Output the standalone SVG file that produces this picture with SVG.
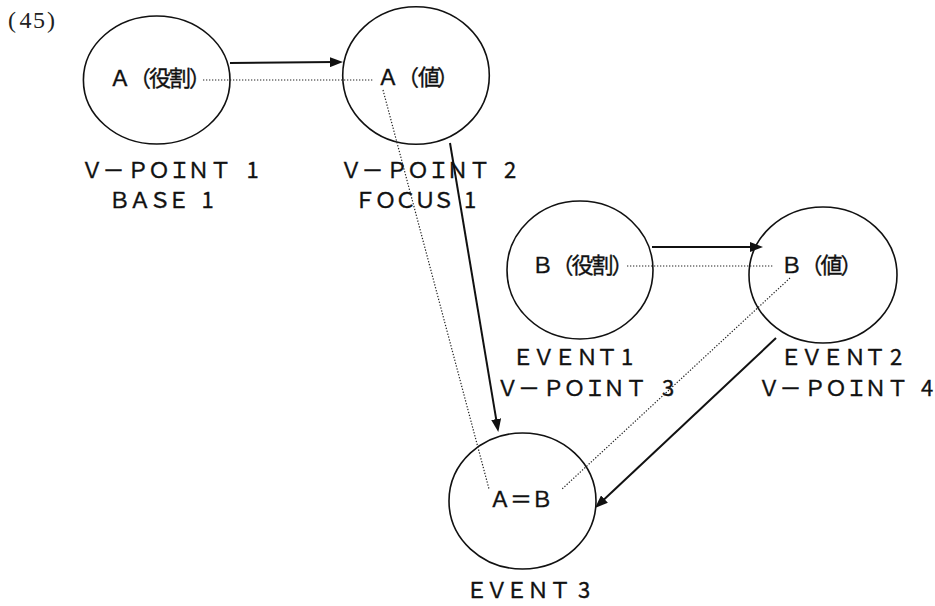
<svg xmlns="http://www.w3.org/2000/svg" width="935" height="606" viewBox="0 0 935 606">
  <style>
    .node { fill: none; stroke: #111; stroke-width: 1.6; }
    .t { font-family: "Noto Sans CJK JP", "Liberation Sans", sans-serif; font-size: 22px; fill: #111; stroke: #111; stroke-width: 0.35; text-anchor: middle; }
    .num { font-family: "Liberation Serif", "Noto Sans CJK JP", serif; font-size: 24px; fill: #222; text-anchor: middle; }
    .solid { stroke: #111; stroke-width: 2; fill: none; }
    .dot { stroke: #222; stroke-width: 1.2; stroke-dasharray: 1.3 1.7; fill: none; }
  </style>
  <defs>
    <marker id="head" markerUnits="userSpaceOnUse" markerWidth="14" markerHeight="10" refX="5" refY="5" orient="auto">
      <path d="M0,0 L13,5 L0,10 z" fill="#111"/>
    </marker>
  </defs>

  <rect width="935" height="606" fill="#ffffff"/>

  <text class="num" x="12 25.5 39 51" y="28">(45)</text>

  <!-- nodes -->
  <g id="a-role">
    <ellipse class="node" cx="156.7" cy="80" rx="73.3" ry="64"/>
    <text class="t" x="120 140 160 180 200" y="86">Ａ（役割）</text>
    <text class="t" x="92 113.5 138 159 179.5 198.5 220.5 236 252.5" y="178">Ｖ－ＰＯＩＮＴ 1</text>
    <text class="t" x="119.5 140 160 178.5 193 207.5" y="208">ＢＡＳＥ 1</text>
  </g>

  <g id="a-value">
    <ellipse class="node" cx="416" cy="75.5" rx="73.3" ry="68.8"/>
    <text class="t" x="388 408 429 448" y="85">Ａ（値）</text>
    <text class="t" x="351 372.5 397 418 438.5 457.5 479.5 495 510" y="178">Ｖ－ＰＯＩＮＴ 2</text>
    <text class="t" x="365 385.5 405.5 425 443.5 457 470" y="208">ＦＯＣＵＳ 1</text>
  </g>

  <g id="b-role">
    <ellipse class="node" cx="580" cy="270" rx="73" ry="69"/>
    <text class="t" x="542.5 562.5 582.5 602.5 622.5" y="273">Ｂ（役割）</text>
    <text class="t" x="523 543.8 565 587 607 627" y="365">ＥＶＥＮＴ1</text>
    <text class="t" x="507.5 529 553.5 574.5 595 614 636 651.5 668" y="396">Ｖ－ＰＯＩＮＴ 3</text>
  </g>

  <g id="b-value">
    <ellipse class="node" cx="823" cy="275" rx="74" ry="68"/>
    <text class="t" x="791.5 811.5 831.5 851.5" y="273">Ｂ（値）</text>
    <text class="t" x="791 811.8 833 855 875 896" y="365">ＥＶＥＮＴ2</text>
    <text class="t" x="769 790.5 815 836 856.5 875.5 897.5 913 927" y="396">Ｖ－ＰＯＩＮＴ 4</text>
  </g>

  <g id="a-equals-b">
    <ellipse class="node" cx="522.5" cy="501" rx="73.5" ry="68"/>
    <text class="t" x="500 521 542" y="507">Ａ＝Ｂ</text>
    <text class="t" x="476.7 496.7 516.7 538 560 584" y="598">ＥＶＥＮＴ3</text>
  </g>

  <!-- connectors -->
  <g id="connectors">
    <line class="solid" x1="230" y1="63" x2="335" y2="62.1" marker-end="url(#head)"/>
    <line class="dot" x1="203" y1="80" x2="373" y2="80"/>
    <line class="solid" x1="652" y1="247" x2="755" y2="247" marker-end="url(#head)"/>
    <line class="dot" x1="627" y1="266" x2="773" y2="266"/>
    <line class="dot" x1="383" y1="90" x2="489" y2="489"/>
    <line class="dot" x1="790" y1="278" x2="562" y2="489"/>
    <line class="solid" x1="450" y1="143" x2="497" y2="424.1" marker-end="url(#head)"/>
    <line class="solid" x1="776" y1="338" x2="600.8" y2="502.5" marker-end="url(#head)"/>
  </g>
</svg>
